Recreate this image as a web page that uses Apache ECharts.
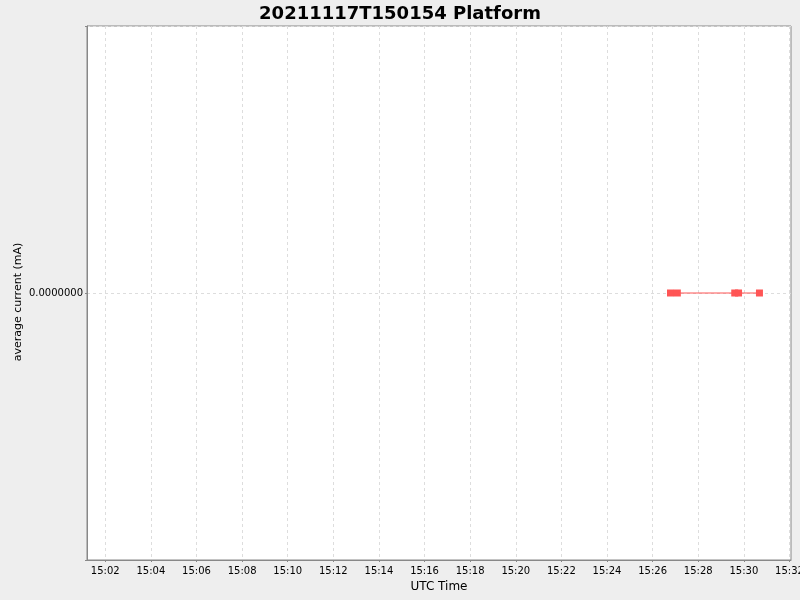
<!DOCTYPE html>
<html>
<head>
<meta charset="utf-8">
<script src="https://cdn.jsdelivr.net/npm/echarts@6/dist/echarts.min.js"></script>
<style>
html,body{margin:0;padding:0;background:#eeeeee;}
#c{width:800px;height:600px;}
</style>
</head>
<body>
<div id="c"></div>
<script>
const titleText = '20211117T150154 Platform';
const times = ['2021-11-17T15:26:47Z','2021-11-17T15:27:05Z','2021-11-17T15:29:36Z','2021-11-17T15:29:46Z','2021-11-17T15:30:41Z'];
const currents = [0, 0, 0, 0, 0];
const xMin = '2021-11-17T15:01:12Z';
const xMax = '2021-11-17T15:32:04Z';
const tickLabels = ['15:02','15:04','15:06','15:08','15:10','15:12','15:14','15:16','15:18','15:20','15:22','15:24','15:26','15:28','15:30','15:32'];

const data = times.map((t, i) => [Date.parse(t), currents[i]]);
const tickValues = tickLabels.map(s => Date.parse('2021-11-17T' + s + ':00Z'));
const pad = n => (n < 10 ? '0' : '') + n;

const chart = echarts.init(document.getElementById('c'));
chart.setOption({
  backgroundColor: '#eeeeee',
  animation: false,
  title: {
    text: titleText,
    left: 'center',
    top: 0,
    textStyle: {fontFamily: 'DejaVu Sans', fontWeight: 'bold', fontSize: 18, color: '#000'}
  },
  grid: {
    left: 87, right: 9, top: 26, bottom: 40,
    outerBoundsMode: 'none',
    containLabel: false,
    show: true, backgroundColor: '#ffffff', borderColor: '#888888', borderWidth: 1
  },
  xAxis: {
    type: 'value',
    min: Date.parse(xMin),
    max: Date.parse(xMax),
    name: 'UTC Time',
    nameLocation: 'middle',
    nameGap: 21,
    nameMoveOverlap: false,
    nameTextStyle: {fontFamily: 'DejaVu Sans', fontSize: 12, color: '#000'},
    axisLine: {onZero: false, lineStyle: {color: '#888888'}},
    axisTick: {show: true, length: 2, customValues: tickValues, lineStyle: {color: '#888888'}},
    axisLabel: {
      fontFamily: 'DejaVu Sans', fontSize: 10, color: '#000', margin: 6,
      customValues: tickValues,
      formatter: v => { const d = new Date(v); return pad(d.getUTCHours()) + ':' + pad(d.getUTCMinutes()); }
    },
    splitLine: {show: true, customValues: tickValues, lineStyle: {color: '#dddddd', type: [3, 3]}}
  },
  yAxis: {
    type: 'value',
    min: -1, max: 1, interval: 1,
    name: 'average current (mA)',
    nameLocation: 'middle',
    nameGap: 63,
    nameMoveOverlap: false,
    nameRotate: 90,
    nameTextStyle: {fontFamily: 'DejaVu Sans', fontSize: 11, color: '#000', padding: [0, 18, 0, 0]},
    axisLine: {show: true, onZero: false, lineStyle: {color: '#888888'}},
    axisTick: {show: true, length: 2, lineStyle: {color: '#888888'}},
    axisLabel: {
      fontFamily: 'DejaVu Sans', fontSize: 10, color: '#000', margin: 4,
      formatter: v => (v === 0 ? v.toFixed(7) : '')
    },
    splitLine: {show: true, lineStyle: {color: '#dddddd', type: [3, 3]}}
  },
  series: [{
    type: 'line',
    data: data,
    symbol: 'rect',
    symbolSize: 7,
    showAllSymbol: true,
    itemStyle: {color: '#ff5555'},
    lineStyle: {color: '#ff5555', width: 1}
  }]
});
</script>
</body>
</html>
